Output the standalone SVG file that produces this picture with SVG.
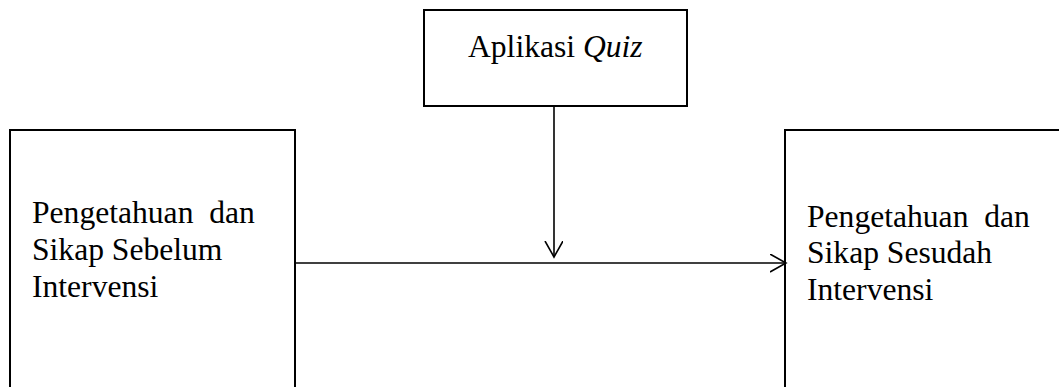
<svg xmlns="http://www.w3.org/2000/svg" width="1059" height="387" viewBox="0 0 1059 387">
<style>
.box{fill:#fff;stroke:#000;stroke-width:2}
.lbl{font-family:"Liberation Serif","Times New Roman",serif;font-size:31.6px;fill:#000}
.conn{stroke:#000;stroke-width:1.6;fill:none}
</style>
<defs>
<marker id="arr" markerUnits="userSpaceOnUse" markerWidth="20" markerHeight="22" refX="16" refY="9" orient="auto">
<path d="M0,0 L16,9 L0,18" fill="none" stroke="#000" stroke-width="1.6"/>
</marker>
</defs>
<rect width="1059" height="387" fill="#fff"/>
<g id="node-before">
<rect class="box" x="10" y="130" width="285" height="300"/>
<text class="lbl" x="32" y="223" xml:space="preserve">Pengetahuan  dan</text>
<text class="lbl" x="32" y="260">Sikap Sebelum</text>
<text class="lbl" x="32" y="297">Intervensi</text>
</g>
<g id="node-quiz">
<rect class="box" x="424" y="10" width="263" height="96"/>
<text class="lbl" x="468" y="57">Aplikasi <tspan font-style="italic">Quiz</tspan></text>
</g>
<g id="node-after">
<rect class="box" x="785" y="130" width="300" height="300"/>
<text class="lbl" x="807" y="227" xml:space="preserve">Pengetahuan  dan</text>
<text class="lbl" x="807" y="263">Sikap Sesudah</text>
<text class="lbl" x="807" y="300">Intervensi</text>
</g>
<g id="connectors">
<line class="conn" x1="296" y1="263" x2="786" y2="263" marker-end="url(#arr)"/>
<line class="conn" x1="554" y1="107" x2="554" y2="257" marker-end="url(#arr)"/>
</g>
</svg>
